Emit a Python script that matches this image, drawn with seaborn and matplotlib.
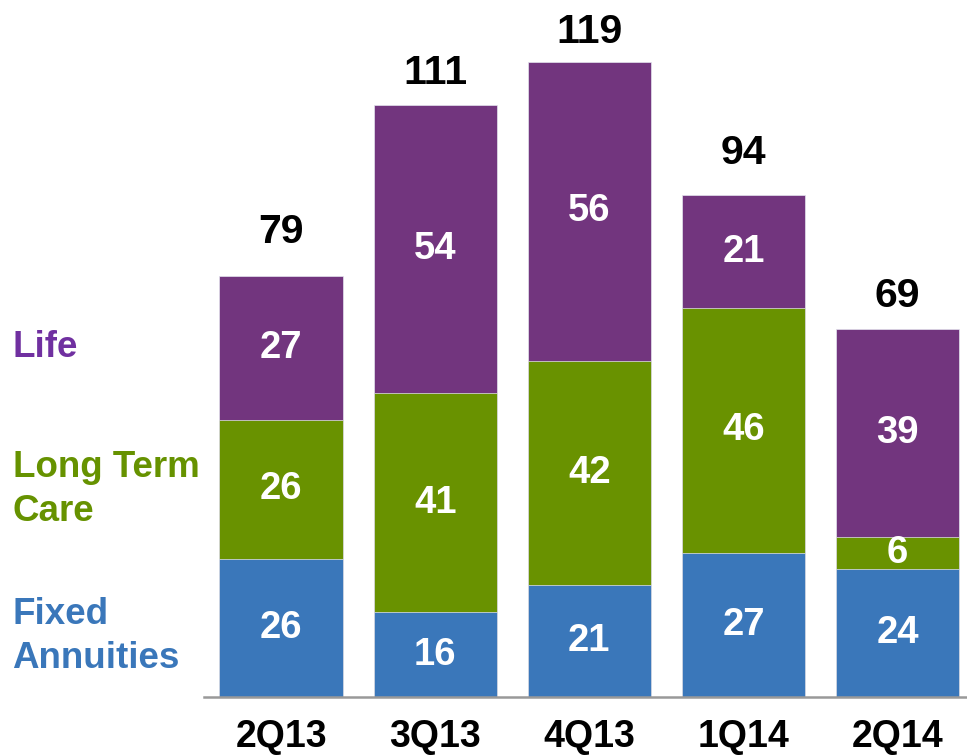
import numpy as np
import pandas as pd
import matplotlib
matplotlib.use("Agg")
import matplotlib.pyplot as plt
import matplotlib.transforms as mtransforms
import seaborn as sns

# Quarterly sales by product line
quarters = ["2Q13", "3Q13", "4Q13", "1Q14", "2Q14"]
fixed_annuities = [26, 16, 21, 27, 24]
long_term_care = [26, 41, 42, 46, 6]
life = [27, 54, 56, 21, 39]
totals = [79, 111, 119, 94, 69]

series_names = ["Fixed\nAnnuities", "Long Term\nCare", "Life"]
bar_colors = ["#3A77BA", "#699200", "#72357E"]
text_colors = ["#3A77BA", "#669200", "#7030A0"]
# gap (points) between bar top and its total label
total_pad = [23.5, 15.0, 13.5, 23.0, 16.0]

sns.set_theme(style="white")
plt.rcParams["font.family"] = ["Liberation Sans", "DejaVu Sans"]
plt.rcParams["font.weight"] = "bold"

fig = plt.figure(figsize=(9.67, 7.56), dpi=100)
ax = fig.add_axes([0.211, 0.0774, 0.789, 0.9226])

df = pd.DataFrame({
    "quarter": quarters,
    "fixed": fixed_annuities,
    "ltc": long_term_care,
    "life": life,
})
df["cum_fixed"] = df["fixed"]
df["cum_ltc"] = df["fixed"] + df["ltc"]
df["cum_life"] = df["cum_ltc"] + df["life"]

# stacked bars: draw cumulative heights from tallest to shortest
for col, color in zip(["cum_life", "cum_ltc", "cum_fixed"], bar_colors[::-1]):
    sns.barplot(data=df, x="quarter", y=col, order=quarters, color=color,
                saturation=1, width=0.8, errorbar=None,
                edgecolor="#e4e4ee", linewidth=0.5, ax=ax)

ax.set_xlim(-0.5, 4.45)
ax.set_ylim(0, 130.6)

# segment value labels
segments = [fixed_annuities, long_term_care, life]
for i in range(len(quarters)):
    base = 0
    for seg in segments:
        v = seg[i]
        ax.text(i, base + v / 2, f"{v}", ha="center", va="center",
                color="white", fontsize=27.5, fontweight="bold")
        base += v
    ax.annotate(f"{totals[i]}", xy=(i, totals[i]), xytext=(0, total_pad[i]),
                textcoords="offset points", ha="center", va="baseline",
                fontsize=29.5, fontweight="bold", color="black")

# series names to the left of the first bar
trans = mtransforms.blended_transform_factory(fig.transFigure, ax.transData)
base = 0
label_shift = [-1.5, 0, 0]
for name, seg, tc, sh in zip(series_names, segments, text_colors, label_shift):
    ax.text(0.013, base + seg[0] / 2 + sh, name, transform=trans,
            ha="left", va="center", color=tc, fontsize=26.5,
            fontweight="bold", linespacing=1.33)
    base += seg[0]

for side in ["left", "right", "top"]:
    ax.spines[side].set_visible(False)
ax.spines["bottom"].set_color("#999999")
ax.spines["bottom"].set_linewidth(1.8)
ax.set_xlabel("")
ax.set_ylabel("")
ax.set_yticks([])
ax.tick_params(axis="x", length=0, pad=15.5)
for lbl in ax.get_xticklabels():
    lbl.set_fontsize(27)
    lbl.set_fontweight("bold")
    lbl.set_color("black")

fig.savefig("out.png", dpi=100)
